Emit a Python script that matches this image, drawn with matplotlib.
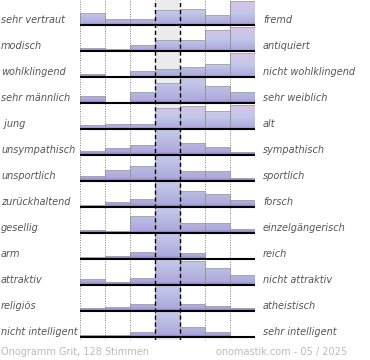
import numpy as np
import matplotlib
matplotlib.use("Agg")
import matplotlib.pyplot as plt
from matplotlib.colors import LinearSegmentedColormap
from matplotlib.patches import Rectangle
from matplotlib.transforms import blended_transform_factory

# Gegensatzpaare (links / rechts)
left_labels = ["sehr vertraut", "modisch", "wohlklingend", "sehr männlich", " jung",
               "unsympathisch", "unsportlich", "zurückhaltend", "gesellig", "arm",
               "attraktiv", "religiös", "nicht intelligent"]
right_labels = ["fremd", "antiquiert", "nicht wohlklingend", "sehr weiblich", "alt",
                "sympathisch", "sportlich", "forsch", "einzelgängerisch", "reich",
                "nicht attraktiv", "atheistisch", "sehr intelligent"]

# Anteile je Stufe (7 Stufen), in Zeilenhöhen; >1 wird abgeschnitten
votes = [
    [0.46, 0.23, 0.23, 0.58, 0.62, 0.38, 0.92],
    [0.13, 0.08, 0.23, 0.42, 0.42, 0.81, 0.93],
    [0.12, 0.00, 0.23, 0.29, 0.38, 0.50, 0.92],
    [0.25, 0.00, 0.42, 0.77, 1.60, 0.67, 0.44],
    [0.15, 0.21, 0.21, 0.81, 0.88, 0.69, 0.92],
    [0.17, 0.27, 0.38, 1.80, 0.46, 0.31, 0.13],
    [0.21, 0.42, 0.56, 1.80, 0.40, 0.37, 0.13],
    [0.08, 0.21, 0.31, 1.80, 0.60, 0.50, 0.27],
    [0.13, 0.06, 0.65, 1.80, 0.38, 0.37, 0.15],
    [0.06, 0.10, 0.27, 1.80, 0.23, 0.00, 0.00],
    [0.23, 0.13, 0.27, 1.80, 0.92, 0.65, 0.37],
    [0.10, 0.15, 0.25, 1.80, 0.27, 0.21, 0.13],
    [0.06, 0.06, 0.19, 1.80, 0.40, 0.19, 0.00],
]

footer_left = "Onogramm Grit, 128 Stimmen"
footer_right = "onomastik.com - 05 / 2025"

n_rows = len(votes)
n_cols = 7

cmap = LinearSegmentedColormap.from_list(
    "ono", [(0.0, "#8a7ec4"), (0.07, "#aeaadc"), (0.5, "#c2c8ea"), (1.0, "#dcc2e4")])
grad = np.linspace(0, 1, 256).reshape(-1, 1)

fig = plt.figure(figsize=(3.7, 3.6), dpi=100)
ax = fig.add_axes([80 / 370, (360 - 340.1) / 360, 175 / 370, 341.1 / 360])
ax.set_axis_off()

# grauer Hintergrund der Mittelspalte
ax.add_patch(Rectangle((3, -0.12), 1, 13.12, facecolor="#ececec", edgecolor="none", zorder=0))

for i, row in enumerate(votes):
    base = n_rows - 1 - i
    gmax = max(row)
    for j, v in enumerate(row):
        if v <= 0:
            continue
        h = min(v, 1.0)
        clip = Rectangle((j, base), 1, h, transform=ax.transData)
        im = ax.imshow(grad, cmap=cmap, origin="lower", aspect="auto",
                       extent=(j, j + 1, base, base + gmax), zorder=1, interpolation="bilinear")
        im.set_clip_path(clip)
        ax.add_patch(Rectangle((j, base), 1, h, facecolor="none", edgecolor="#a4a4a4",
                               linewidth=0.6, zorder=1.5))
    ax.plot([0, n_cols], [base, base], color="black", linewidth=1.5, zorder=4,
            solid_capstyle="butt")

for x in [0, 1, 2, 5, 6, 7]:
    ax.plot([x, x], [-0.12, 13], color="#808080", linestyle=(0, (1, 1.5)), linewidth=0.7, zorder=3)
for x in [3, 4]:
    ax.plot([x, x], [-0.12, 13], color="black", linestyle=(0, (3, 2)), linewidth=1.0, zorder=3)

ax.set_xlim(0, n_cols)
ax.set_ylim(-0.12, 13)

tr = blended_transform_factory(fig.transFigure, ax.transData)
for i in range(n_rows):
    y = n_rows - 1 - i + 0.2
    fig.text(1 / 370, y, left_labels[i], transform=tr, ha="left", va="center",
             fontsize=7, style="italic", color="#555555")
    fig.text(263 / 370, y, right_labels[i], transform=tr, ha="left", va="center",
             fontsize=7, style="italic", color="#555555")

fig.text(1 / 370, 8 / 360, footer_left, ha="left", va="center", fontsize=7, color="#bbbbbb")
fig.text(347 / 370, 8 / 360, footer_right, ha="right", va="center", fontsize=7, color="#bbbbbb")

fig.savefig("out.png", dpi=100)
